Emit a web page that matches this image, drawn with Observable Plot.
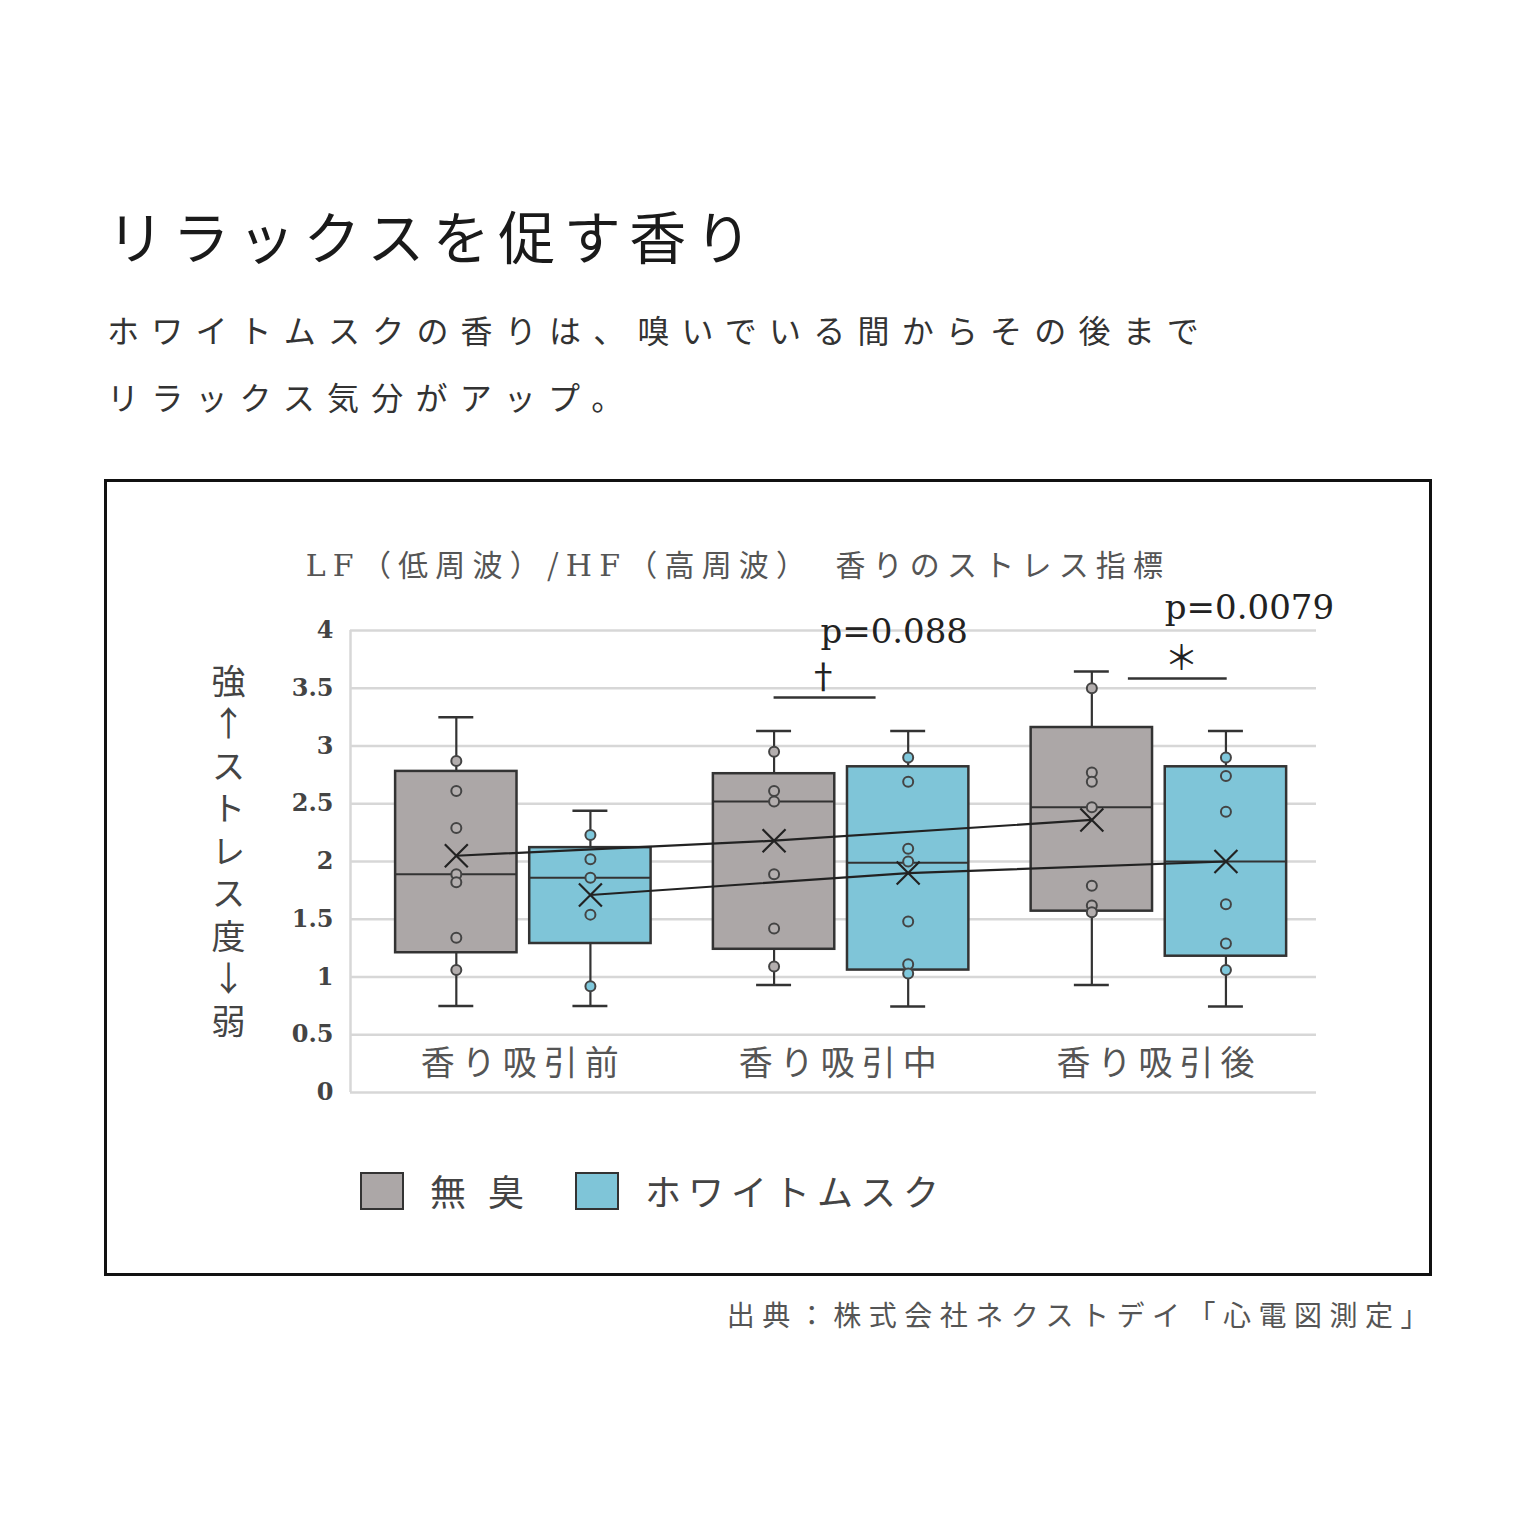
<!DOCTYPE html>
<html>
<head>
<meta charset="utf-8">
<script src="https://cdn.jsdelivr.net/npm/d3@7"></script>
<script src="https://cdn.jsdelivr.net/npm/@observablehq/plot@0.6"></script>
<style>
  html, body { margin: 0; padding: 0; background: #fff; }
  body { width: 1536px; height: 1536px; position: relative; overflow: hidden; font-family: "Noto Sans CJK JP", sans-serif; }
  .abs { position: absolute; white-space: nowrap; }
  #title { left: 107px; top: 196px; font-size: 57px; letter-spacing: 8.5px; color: #1a1a1a; line-height: 76px; }
  #sub { left: 107px; top: 296px; font-size: 32px; letter-spacing: 12.2px; color: #333; line-height: 67px; }
  #frame { left: 104px; top: 479px; width: 1328px; height: 797px; border: 3px solid #111; box-sizing: border-box; }
  #ctitle { left: 303px; top: 540px; width: 870px; text-align: center; font-size: 30px; letter-spacing: 7.2px; color: #555; line-height: 46px; }
  #ytitle { left: 207px; top: 664px; font-size: 34px; letter-spacing: 8.5px; color: #444; writing-mode: vertical-rl; text-orientation: upright; line-height: 42px; }
  #chart { left: 0px; top: 520px; }
  .sw { position: absolute; width: 44px; height: 38px; border: 2.5px solid #333; box-sizing: border-box; }
  .lg { position: absolute; font-size: 36px; color: #444; line-height: 50px; }
  #caption { right: 100px; top: 1292px; font-size: 28px; letter-spacing: 7.5px; color: #555; line-height: 44px; }
</style>
</head>
<body>
<div id="title" class="abs">リラックスを促す香り</div>
<div id="sub" class="abs">ホワイトムスクの香りは、嗅いでいる間からその後まで<br>リラックス気分がアップ。</div>
<div id="frame" class="abs"></div>
<div id="ctitle" class="abs"><span style="font-family:'DejaVu Serif'">LF</span>（低周波）/<span style="font-family:'DejaVu Serif'">HF</span>（高周波）　香りのストレス指標</div>
<div id="ytitle" class="abs">強↑ストレス度↓弱</div>
<div id="chart" class="abs"></div>
<div id="legend"></div>
<div id="caption" class="abs">出典：株式会社ネクストデイ「心電図測定」</div>
<script>
// ---- data ----
const groups = ["香り吸引前", "香り吸引中", "香り吸引後"];
const seriesNames = ["無臭", "ホワイトムスク"];
const seriesColors = ["#aca7a7", "#7fc5d8"];
const pointColors = ["#b3aeae", "#7fc8dc"];
const yTicks = [0, 0.5, 1, 1.5, 2, 2.5, 3, 3.5, 4];

// 無臭 (odorless)
const odorLow    = [0.75, 0.93, 0.93];
const odorQ1     = [1.21, 1.24, 1.57];
const odorMedian = [1.89, 2.52, 2.47];
const odorQ3     = [2.78, 2.76, 3.16];
const odorHigh   = [3.25, 3.13, 3.645];
const odorMean   = [2.05, 2.18, 2.36];
const odorPoints = [
  [2.87, 2.61, 2.29, 1.89, 1.82, 1.34, 1.06],
  [2.95, 2.61, 2.52, 1.89, 1.42, 1.09],
  [3.50, 2.77, 2.69, 2.47, 1.79, 1.62, 1.56]
];

// ホワイトムスク (white musk)
const muskLow    = [0.75, 0.745, 0.745];
const muskQ1     = [1.29, 1.06, 1.18];
const muskMedian = [1.86, 1.99, 2.00];
const muskQ3     = [2.12, 2.82, 2.82];
const muskHigh   = [2.44, 3.13, 3.13];
const muskMean   = [1.71, 1.90, 2.00];
const muskPoints = [
  [2.23, 2.02, 1.86, 1.54, 0.92],
  [2.90, 2.69, 2.11, 2.00, 1.48, 1.11, 1.03],
  [2.90, 2.74, 2.43, 1.63, 1.29, 1.06]
];

// significance annotations
const sigGroups = ["香り吸引中", "香り吸引後"];
const pLabels = ["p=0.088", "p=0.0079"];
const sigMarks = ["†", "＊"];
const bracketLevels = [3.42, 3.585];

// ---- layout (not data) ----
const seriesOffset = [-0.211, 0.211];
const boxHalf = 0.191;
const capHalf = 0.055;
const xDomain = [-0.544, 2.496];
const annLayout = [
  { b1: -0.211, b2: 0.11, mx: -0.056, my: 0.17, px: 0.167, py: 0.57 },
  { b1: -0.096, b2: 0.215, mx: 0.071, my: 0.17, px: 0.285, py: 0.61 }
];

const stats = [
  { low: odorLow, q1: odorQ1, med: odorMedian, q3: odorQ3, high: odorHigh, mean: odorMean, pts: odorPoints },
  { low: muskLow, q1: muskQ1, med: muskMedian, q3: muskQ3, high: muskHigh, mean: muskMean, pts: muskPoints }
];

const boxes = groups.flatMap((g, gi) => seriesNames.map((s, si) => ({
  group: g, series: s, si, xc: gi + seriesOffset[si],
  low: stats[si].low[gi], q1: stats[si].q1[gi], med: stats[si].med[gi],
  q3: stats[si].q3[gi], high: stats[si].high[gi], mean: stats[si].mean[gi]
})));
const points = boxes.flatMap(b => stats[b.si].pts[groups.indexOf(b.group)].map(v => ({ ...b, v })));
const anns = sigGroups.map((g, i) => {
  const gi = groups.indexOf(g), L = annLayout[i];
  return { g, p: pLabels[i], mark: sigMarks[i], by: bracketLevels[i],
    x1: gi + L.b1, x2: gi + L.b2, mx: gi + L.mx, my: bracketLevels[i] + L.my,
    px: gi + L.px, py: bracketLevels[i] + L.py };
});

const color = d3.scaleOrdinal(seriesNames, seriesColors);
const pcolor = d3.scaleOrdinal(seriesNames, pointColors);

const plot = Plot.plot({
  width: 1536,
  height: 600,
  marginLeft: 350,
  marginRight: 220,
  marginTop: 110,
  marginBottom: 28,
  x: { domain: xDomain, axis: null },
  y: { domain: [0, 4] },
  style: { fontFamily: "DejaVu Serif", background: "transparent", overflow: "visible" },
  marks: [
    Plot.ruleY(yTicks, { y: d => d, stroke: "#d7d7d7", strokeWidth: 2.5 }),
    Plot.ruleX([xDomain[0]], { x: d => d, y1: 0, y2: 4, stroke: "#d7d7d7", strokeWidth: 2.5 }),
    Plot.axisY({ ticks: yTicks, tickFormat: d => String(d), tickSize: 0, tickPadding: 17, fontSize: 24, fontWeight: "bold", fill: "#444" }),
    Plot.ruleX(boxes, { x: "xc", y1: "low", y2: "high", stroke: "#333", strokeWidth: 2.2 }),
    Plot.ruleY(boxes, { y: "high", x1: d => d.xc - capHalf, x2: d => d.xc + capHalf, stroke: "#333", strokeWidth: 2.5 }),
    Plot.ruleY(boxes, { y: "low", x1: d => d.xc - capHalf, x2: d => d.xc + capHalf, stroke: "#333", strokeWidth: 2.5 }),
    Plot.rect(boxes, { x1: d => d.xc - boxHalf, x2: d => d.xc + boxHalf, y1: "q1", y2: "q3", fill: d => color(d.series), stroke: "#333", strokeWidth: 2.5 }),
    Plot.ruleY(boxes, { y: "med", x1: d => d.xc - boxHalf, x2: d => d.xc + boxHalf, stroke: "#333", strokeWidth: 2 }),
    Plot.dot(points, { x: "xc", y: "v", r: 5, fill: d => pcolor(d.series), stroke: "#444", strokeWidth: 2 }),
    Plot.line(boxes, { x: "xc", y: "mean", z: "series", stroke: "#222", strokeWidth: 2.2 }),
    Plot.dot(boxes, { x: "xc", y: "mean", symbol: "times", r: 10.5, stroke: "#222", strokeWidth: 2.2 }),
    Plot.text(groups, { x: (d, i) => i, frameAnchor: "bottom", dy: -18, text: d => d, fontSize: 34, fontFamily: "Noto Sans CJK JP", fill: "#555" }),
    Plot.ruleY(anns, { y: "by", x1: "x1", x2: "x2", stroke: "#333", strokeWidth: 2.5 }),
    Plot.text(anns, { x: "mx", y: "my", text: "mark", fontSize: 34, fontFamily: "Noto Sans CJK JP", fill: "#222" }),
    Plot.text(anns, { x: "px", y: "py", text: "p", fontSize: 34, fontFamily: "DejaVu Serif", fill: "#222" })
  ]
});
d3.select(plot).selectAll("text").filter(function() { return groups.includes(this.textContent); })
  .style("letter-spacing", "7px");
document.getElementById("chart").appendChild(plot);

// legend (HTML, built from the series arrays)
const legend = document.getElementById("legend");
const legendX = [360, 575];
const labelX = [430, 645];
const labelSpacing = ["22px", "7px"];
seriesNames.forEach((s, i) => {
  const sw = document.createElement("div");
  sw.className = "sw";
  sw.style.left = legendX[i] + "px";
  sw.style.top = "1172px";
  sw.style.background = seriesColors[i];
  legend.appendChild(sw);
  const lb = document.createElement("div");
  lb.className = "lg";
  lb.style.left = labelX[i] + "px";
  lb.style.top = "1165px";
  lb.style.letterSpacing = labelSpacing[i];
  lb.textContent = s;
  legend.appendChild(lb);
});
</script>
</body>
</html>
